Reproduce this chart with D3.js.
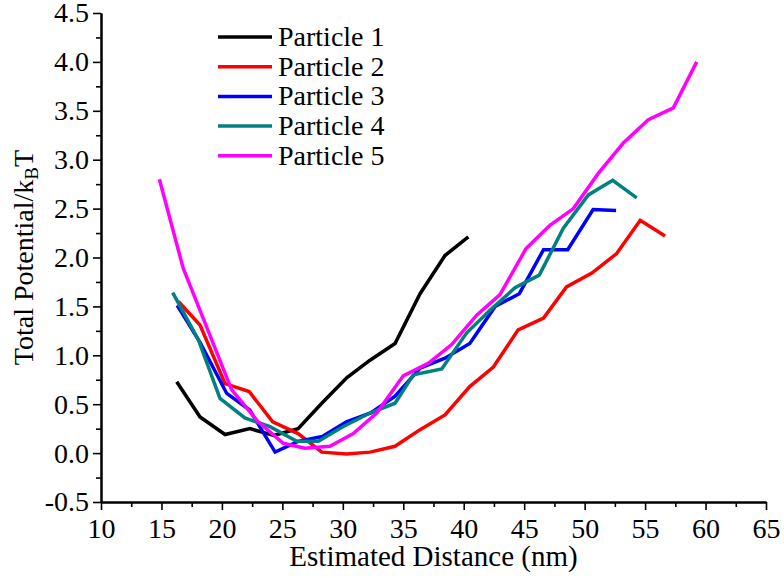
<!DOCTYPE html>
<html>
<head>
<meta charset="utf-8">
<script src="https://cdn.jsdelivr.net/npm/d3@7"></script>
<style>
body { margin: 0; background: #fff; }
</style>
</head>
<body>
<div id="chart"></div>
<script>
// values
var names = ["Particle 1", "Particle 2", "Particle 3", "Particle 4", "Particle 5"]
var colors = ["#000000", "#ff0000", "#0000ff", "#008080", "#ff00ff"]

var p1_x = [16.26, 18.19, 20.26, 22.32, 24.3, 26.3, 28.26, 30.32, 32.25, 34.32, 36.39, 38.45, 40.38]
var p1_y = [0.73, 0.37, 0.19, 0.25, 0.18, 0.25, 0.51, 0.77, 0.95, 1.12, 1.63, 2.02, 2.21]

var p2_x = [16.4, 18.19, 20.26, 22.25, 24.2, 26.3, 28.26, 30.32, 32.25, 34.32, 36.39, 38.45, 40.5, 42.45, 44.5, 46.6, 48.5, 50.6, 52.65, 54.6, 56.65]
var p2_y = [1.55, 1.31, 0.71, 0.63, 0.32, 0.20, 0.01, -0.01, 0.01, 0.07, 0.24, 0.39, 0.68, 0.88, 1.26, 1.38, 1.70, 1.84, 2.04, 2.38, 2.22]

var p3_x = [16.3, 18.2, 20.4, 22.3, 24.4, 26.3, 28.3, 30.3, 32.3, 34.3, 36.4, 38.45, 40.5, 42.6, 44.6, 46.6, 48.6, 50.7, 52.6]
var p3_y = [1.51, 1.13, 0.61, 0.44, 0.01, 0.12, 0.17, 0.32, 0.41, 0.58, 0.87, 0.97, 1.12, 1.50, 1.63, 2.08, 2.08, 2.49, 2.48]

var p4_x = [15.93, 18.05, 19.84, 21.9, 23.98, 26.19, 27.98, 30.0, 32.25, 34.32, 35.83, 38.18, 40.25, 42.17, 44.24, 46.25, 48.24, 50.31, 52.32, 54.31]
var p4_y = [1.64, 1.16, 0.56, 0.36, 0.27, 0.12, 0.12, 0.27, 0.41, 0.51, 0.80, 0.86, 1.23, 1.46, 1.69, 1.82, 2.30, 2.64, 2.79, 2.61]

var p5_x = [14.83, 16.8, 18.8, 20.8, 23.0, 25.08, 26.87, 28.93, 30.87, 32.8, 35.0, 37.1, 39.0, 41.07, 43.0, 45.15, 47.13, 49.07, 51.13, 53.2, 55.27, 57.34, 59.27]
var p5_y = [2.80, 1.89, 1.27, 0.65, 0.32, 0.10, 0.05, 0.07, 0.20, 0.41, 0.79, 0.92, 1.11, 1.41, 1.62, 2.09, 2.33, 2.50, 2.86, 3.17, 3.41, 3.53, 4.00]

var x_ticks = [10, 15, 20, 25, 30, 35, 40, 45, 50, 55, 60, 65]
var y_ticks = [-0.5, 0.0, 0.5, 1.0, 1.5, 2.0, 2.5, 3.0, 3.5, 4.0, 4.5]
var y_tick_labels = ["-0.5", "0.0", "0.5", "1.0", "1.5", "2.0", "2.5", "3.0", "3.5", "4.0", "4.5"]

var all_x = [p1_x, p2_x, p3_x, p4_x, p5_x]
var all_y = [p1_y, p2_y, p3_y, p4_y, p5_y]

var width = 784
var height = 578
var margin = {left: 101, right: 18, top: 13, bottom: 76}
var serif = "'Liberation Serif', 'Times New Roman', Times, serif"

var svg = d3.select("#chart")
	.append("svg")
	.attr("width", width)
	.attr("height", height)

var x = d3.scaleLinear().domain([10, 65]).range([margin.left, width - margin.right])
var y = d3.scaleLinear().domain([-0.5, 4.5]).range([height - margin.bottom, margin.top])

// minor ticks
var x_minor = d3.range(12.5, 65, 5)
var y_minor = d3.range(-0.25, 4.5, 0.5)

svg.append("g")
	.attr("transform", "translate(0," + y(-0.5) + ")")
	.call(d3.axisBottom(x).tickValues(x_minor).tickSize(5).tickFormat("").tickSizeOuter(0))
svg.append("g")
	.attr("transform", "translate(" + x(10) + ",0)")
	.call(d3.axisLeft(y).tickValues(y_minor).tickSize(5).tickFormat("").tickSizeOuter(0))

var xAxis = svg.append("g")
	.attr("transform", "translate(0," + y(-0.5) + ")")
	.call(d3.axisBottom(x).tickValues(x_ticks).tickSize(8).tickSizeOuter(0).tickPadding(8))
var yAxis = svg.append("g")
	.attr("transform", "translate(" + x(10) + ",0)")
	.call(d3.axisLeft(y).tickValues(y_ticks).tickSize(8).tickSizeOuter(0).tickPadding(4)
		.tickFormat(function(d, i) { return y_tick_labels[i] }))

svg.selectAll(".domain").attr("stroke", "#000").attr("stroke-width", 2)
svg.selectAll(".tick line").attr("stroke", "#000").attr("stroke-width", 1.6)
xAxis.selectAll(".tick text").attr("font-size", 28)
yAxis.selectAll(".tick text").attr("font-size", 28)

// axis titles
svg.append("text")
	.attr("x", (x(10) + x(65)) / 2)
	.attr("y", 566)
	.attr("text-anchor", "middle")
	.attr("font-size", 29)
	.text("Estimated Distance (nm)")

var ytitle = svg.append("text")
	.attr("transform", "translate(33," + ((y(-0.5) + y(4.5)) / 2) + ") rotate(-90)")
	.attr("text-anchor", "middle")
	.attr("font-size", 28)
ytitle.append("tspan").text("Total Potential/k")
ytitle.append("tspan").attr("font-size", 19).attr("dy", 5).text("B")
ytitle.append("tspan").attr("dy", -5).text("T")

// lines
var line = d3.line()
	.x(function(d) { return x(d[0]) })
	.y(function(d) { return y(d[1]) })

for (var i = 0; i < names.length; i++) {
	var pts = all_x[i].map(function(v, j) { return [v, all_y[i][j]] })
	svg.append("path")
		.datum(pts)
		.attr("d", line)
		.attr("fill", "none")
		.attr("stroke", colors[i])
		.attr("stroke-width", 3.5)
		.attr("stroke-linejoin", "miter")
}

// legend
var legend = svg.append("g").attr("transform", "translate(218,37)")
for (var i = 0; i < names.length; i++) {
	var row = legend.append("g").attr("transform", "translate(0," + i * 29.7 + ")")
	row.append("line")
		.attr("x1", 0).attr("x2", 54)
		.attr("y1", 0).attr("y2", 0)
		.attr("stroke", colors[i])
		.attr("stroke-width", 3.5)
	row.append("text")
		.attr("x", 60)
		.attr("y", 9)
		.attr("font-size", 28)
		.text(names[i])
}

// serif everywhere, set inline so nothing overrides it
svg.selectAll("text").style("font-family", serif).style("fill", "#000")
</script>
</body>
</html>
